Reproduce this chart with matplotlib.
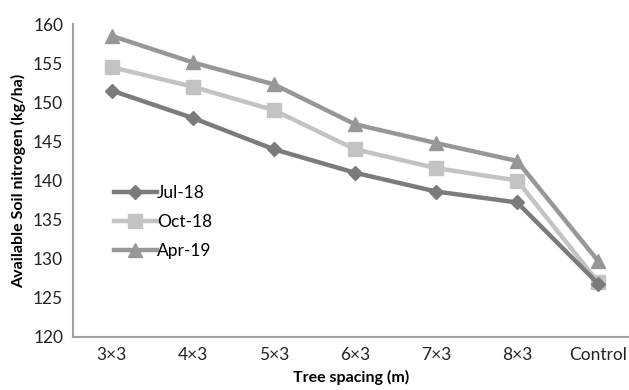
import matplotlib
matplotlib.use("Agg")
import matplotlib.pyplot as plt

categories = ["3\u00d73", "4\u00d73", "5\u00d73", "6\u00d73", "7\u00d73", "8\u00d73", "Control"]
jul18 = [151.5, 148.0, 144.0, 141.0, 138.6, 137.2, 126.8]
oct18 = [154.5, 152.0, 149.0, 144.0, 141.6, 140.0, 127.0]
apr19 = [158.5, 155.1, 152.3, 147.2, 144.8, 142.5, 129.7]

plt.rcParams["font.family"] = ["Lato", "DejaVu Sans"]

fig = plt.figure(figsize=(6.29, 3.90), dpi=100)
ax = fig.add_axes([0.116, 0.136, 0.884, 0.802])

x = range(len(categories))
ax.plot(x, jul18, color="#7b7b7b", lw=3.2, marker="D", ms=7.5, label="Jul-18", zorder=3)
ax.plot(x, oct18, color="#c3c3c3", lw=3.2, marker="s", ms=9.5, label="Oct-18", zorder=2)
ax.plot(x, apr19, color="#979797", lw=3.2, marker="^", ms=10.5, label="Apr-19", zorder=1)

ax.set_ylim(120, 160)
ax.set_yticks(range(120, 161, 5))
ax.set_xlim(-0.48, 6.38)
ax.set_xticks(list(x))
ax.set_xticklabels(categories)
ax.tick_params(length=0, labelsize=12.5, colors="#222222", pad=7)
ax.tick_params(axis="y", pad=7)

for s in ["top", "right"]:
    ax.spines[s].set_visible(False)
for s in ["left", "bottom"]:
    ax.spines[s].set_color("#a0a0a0")
    ax.spines[s].set_linewidth(1.5)

ax.set_xlabel("Tree spacing (m)", fontsize=11.5, fontweight="bold", labelpad=5)
ax.set_ylabel("Available Soil nitrogen (kg/ha)", fontsize=11.5, fontweight="bold", labelpad=5)

ax.legend(loc="upper left", bbox_to_anchor=(0.045, 0.535), frameon=False, fontsize=12.5,
          handlelength=2.5, handletextpad=0.0, labelspacing=0.75)

fig.savefig("out.png", dpi=100)
